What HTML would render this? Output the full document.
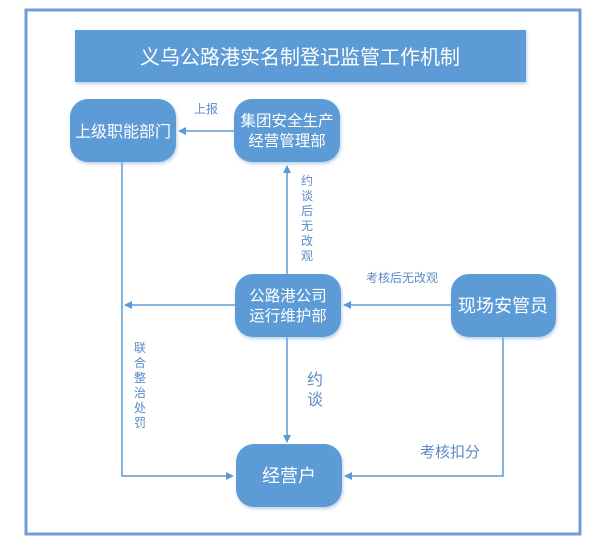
<!DOCTYPE html>
<html><head><meta charset="utf-8"><style>
html,body{margin:0;padding:0;background:#fff;}
svg{display:block;}
text{font-family:"Liberation Sans","Noto Sans CJK SC",sans-serif;}
</style></head><body>
<svg width="600" height="557" viewBox="0 0 600 557" xmlns="http://www.w3.org/2000/svg">
<defs>
<filter id="sh" x="-10%" y="-10%" width="125%" height="130%"><feDropShadow dx="1" dy="2" stdDeviation="1.5" flood-color="#8fb3dc" flood-opacity="0.6"/></filter>
<marker id="ar" markerWidth="8" markerHeight="8" refX="7" refY="4" orient="auto" markerUnits="userSpaceOnUse"><path d="M0,0 L8,4 L0,8 Z" fill="#5b9bd5"/></marker>
</defs>
<rect x="26" y="10" width="554" height="524" fill="#fff" stroke="#6a9fd8" stroke-width="3"/>
<rect x="75" y="30" width="451" height="52" fill="#5b9bd5" filter="url(#sh)"/>
<text x="300" y="64" font-size="20" fill="#fff" text-anchor="middle">义乌公路港实名制登记监管工作机制</text>
<g stroke="#5b9bd5" stroke-width="1.5" fill="none">
<line x1="235" y1="131" x2="179" y2="131" marker-end="url(#ar)"/>
<line x1="287" y1="274" x2="287" y2="166" marker-end="url(#ar)"/>
<line x1="451" y1="305" x2="344" y2="305" marker-end="url(#ar)"/>
<line x1="235" y1="305" x2="125" y2="305" marker-end="url(#ar)"/>
<line x1="287" y1="337" x2="287" y2="442" marker-end="url(#ar)"/>
<polyline points="122,162 122,476 233,476" marker-end="url(#ar)"/>
<polyline points="503,337 503,476 345,476" marker-end="url(#ar)"/>
</g>
<g fill="#5b9bd5" filter="url(#sh)">
<rect x="70" y="99" width="106" height="63" rx="18"/>
<rect x="234" y="99" width="106" height="63" rx="18"/>
<rect x="235" y="274" width="106" height="63" rx="18"/>
<rect x="451" y="274" width="105" height="63" rx="18"/>
<rect x="236" y="444" width="106" height="63" rx="18"/>
</g>
<g fill="#fff" text-anchor="middle">
<text x="123" y="137" font-size="16">上级职能部门</text>
<text x="287" y="126" font-size="15.5">集团安全生产</text>
<text x="287" y="146" font-size="15.5">经营管理部</text>
<text x="288" y="301" font-size="15.5">公路港公司</text>
<text x="288" y="321" font-size="15.5">运行维护部</text>
<text x="503" y="312" font-size="18">现场安管员</text>
<text x="289" y="482" font-size="18">经营户</text>
</g>
<g fill="#5b8ac6" font-size="12" text-anchor="middle">
<text x="206" y="113">上报</text>
<text x="307" y="185">约</text><text x="307" y="200">谈</text><text x="307" y="215">后</text><text x="307" y="230">无</text><text x="307" y="245">改</text><text x="307" y="260">观</text>
<text x="402" y="282">考核后无改观</text>
<text x="140" y="352">联</text><text x="140" y="367">合</text><text x="140" y="382">整</text><text x="140" y="397">治</text><text x="140" y="412">处</text><text x="140" y="427">罚</text>
<text x="315" y="385" font-size="16">约</text><text x="315" y="405" font-size="16">谈</text>
<text x="450" y="457" font-size="15">考核扣分</text>
</g>
</svg>
</body></html>
